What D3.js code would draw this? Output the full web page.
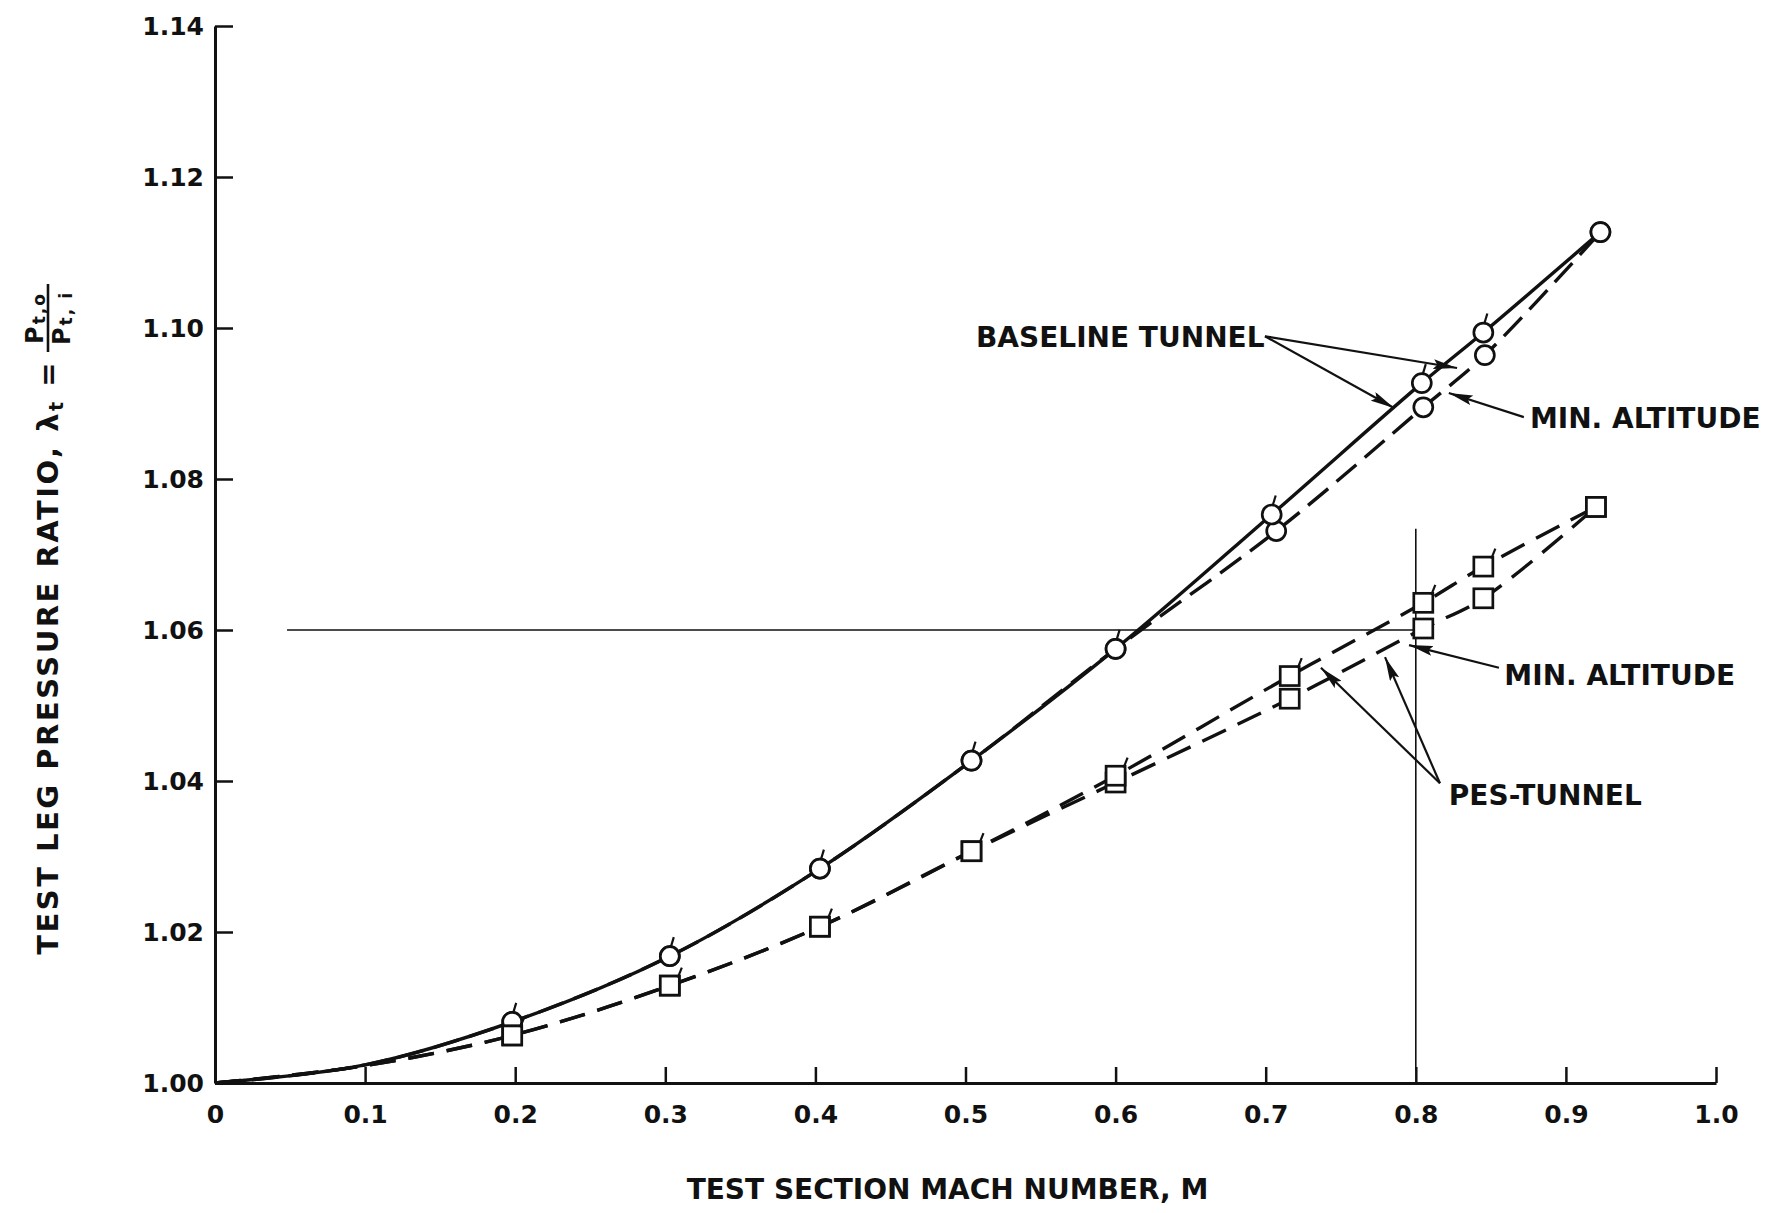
<!DOCTYPE html>
<html>
<head>
<meta charset="utf-8">
<script src="https://cdn.jsdelivr.net/npm/d3@7"></script>
<style>
  body { margin: 0; background: #fff; }
  text { font-family: "DejaVu Sans", sans-serif; font-weight: bold; fill: #111; }
</style>
</head>
<body>
<div id="chart"></div>
<script>
var width = 1775,
    height = 1213;

// axis ticks
var machTicks = [0, 0.1, 0.2, 0.3, 0.4, 0.5, 0.6, 0.7, 0.8, 0.9, 1.0];
var ratioTicks = [1.00, 1.02, 1.04, 1.06, 1.08, 1.10, 1.12, 1.14];

// first two points of every curve (M = 0 and 0.1) are read off the line, no symbol
var plainPoints = 2;

// baseline tunnel (circles, flagged)
var baseMach = [0, 0.1, 0.198, 0.303, 0.403, 0.504, 0.600, 0.704, 0.804, 0.845, 0.923];
var baseRatio = [1.000, 1.0024, 1.0081, 1.0168, 1.0284, 1.0427, 1.0575, 1.0753, 1.0927, 1.0994, 1.1127];
// baseline tunnel, min. altitude (circles)
var baseMinMach = [0, 0.1, 0.198, 0.303, 0.403, 0.504, 0.600, 0.707, 0.805, 0.846, 0.923];
var baseMinRatio = [1.000, 1.0024, 1.0081, 1.0168, 1.0284, 1.0427, 1.0575, 1.0731, 1.0895, 1.0964, 1.1127];
// PES-tunnel (squares, flagged)
var pesMach = [0, 0.1, 0.198, 0.303, 0.403, 0.504, 0.600, 0.716, 0.805, 0.845, 0.920];
var pesRatio = [1.000, 1.0023, 1.0063, 1.0129, 1.0207, 1.0307, 1.0407, 1.0539, 1.0636, 1.0684, 1.0763];
// PES-tunnel, min. altitude (squares)
var pesMinMach = [0, 0.1, 0.198, 0.303, 0.403, 0.504, 0.600, 0.716, 0.805, 0.845, 0.920];
var pesMinRatio = [1.000, 1.0023, 1.0063, 1.0129, 1.0207, 1.0307, 1.0398, 1.0509, 1.0602, 1.0642, 1.0763];

// reference lines
var refRatio = 1.06, refRatioStart = 0.048;
var refMach = 0.8, refMachRange = [1.0017, 1.0734];

// callouts
var labelNames = ["BASELINE TUNNEL", "MIN. ALTITUDE", "MIN. ALTITUDE", "PES-TUNNEL"];
var labelMach = [0.507, 0.876, 0.859, 0.822];
var labelRatio = [1.0975, 1.0868, 1.0527, 1.0368];
var arrowFromMach = [0.6995, 0.6995, 0.872, 0.8554, 0.8161, 0.8161];
var arrowFromRatio = [1.0989, 1.0989, 1.0882, 1.0550, 1.0397, 1.0397];
var arrowToMach = [0.8275, 0.7855, 0.822, 0.7955, 0.7368, 0.7795];
var arrowToRatio = [1.0947, 1.0894, 1.0914, 1.0580, 1.0550, 1.0564];

var series = [
    { mach: baseMinMach, ratio: baseMinRatio, shape: "circle", flag: false, dash: "26 11" },
    { mach: baseMach, ratio: baseRatio, shape: "circle", flag: true, dash: null },
    { mach: pesMinMach, ratio: pesMinRatio, shape: "square", flag: false, dash: "26 13" },
    { mach: pesMach, ratio: pesRatio, shape: "square", flag: true, dash: "26 13" }
];

var svg = d3.select("#chart")
    .append("svg")
    .attr("width", width)
    .attr("height", height);

svg.append("rect").attr("width", width).attr("height", height).attr("fill", "#fff");

svg.append("defs").append("marker")
    .attr("id", "arrow")
    .attr("viewBox", "0 0 24 10")
    .attr("refX", 24).attr("refY", 5)
    .attr("markerWidth", 24).attr("markerHeight", 10)
    .attr("markerUnits", "userSpaceOnUse")
    .attr("orient", "auto")
    .append("path")
    .attr("d", "M0,0L24,5L0,10L4,5Z")
    .attr("fill", "#111");

var x = d3.scaleLinear().domain([0, 1]).range([215, 1716]);
var y = d3.scaleLinear().domain([1.00, 1.14]).range([1083, 26]);

// axes, ticks pointing inward
var xAxis = svg.append("g")
    .attr("transform", "translate(0," + y(1.00) + ")")
    .call(d3.axisBottom(x).tickValues(machTicks).tickSizeInner(-16).tickSizeOuter(0).tickPadding(22)
        .tickFormat(function (d) { return d === 0 ? "0" : d3.format(".1f")(d); }));

var yAxis = svg.append("g")
    .attr("transform", "translate(" + x(0) + ",0)")
    .call(d3.axisLeft(y).tickValues(ratioTicks).tickSizeInner(-18).tickSizeOuter(0).tickPadding(11)
        .tickFormat(d3.format(".2f")));

[xAxis, yAxis].forEach(function (ax) {
    ax.select(".domain").attr("stroke", "#111").attr("stroke-width", 3);
    ax.selectAll(".tick line").attr("stroke", "#111").attr("stroke-width", 2.5);
    ax.selectAll(".tick text").attr("font-size", 25).attr("font-family", null).attr("fill", "#111");
});

// thin reference lines
svg.append("line")
    .attr("x1", x(refRatioStart)).attr("x2", x(refMach))
    .attr("y1", y(refRatio)).attr("y2", y(refRatio))
    .attr("stroke", "#111").attr("stroke-width", 1.4);

svg.append("line")
    .attr("x1", x(refMach)).attr("x2", x(refMach))
    .attr("y1", y(refMachRange[0])).attr("y2", y(refMachRange[1]))
    .attr("stroke", "#111").attr("stroke-width", 1.6);

// curves
var line = d3.line()
    .x(function (d) { return x(d[0]); })
    .y(function (d) { return y(d[1]); })
    .curve(d3.curveCatmullRom.alpha(0.5));

series.forEach(function (s) {
    var pts = s.mach.map(function (m, i) { return [m, s.ratio[i]]; });
    svg.append("path")
        .datum(pts)
        .attr("d", line)
        .attr("fill", "none")
        .attr("stroke", "#111")
        .attr("stroke-width", 3.4)
        .attr("stroke-dasharray", s.dash);
});

// symbols
series.forEach(function (s) {
    var pts = s.mach.map(function (m, i) { return [m, s.ratio[i], i === s.mach.length - 1]; }).slice(plainPoints);
    var mk = svg.append("g").selectAll("g").data(pts).enter().append("g")
        .attr("transform", function (d) { return "translate(" + x(d[0]) + "," + y(d[1]) + ")"; });

    if (s.shape === "circle") {
        mk.append("circle").attr("r", 9.5);
    } else {
        mk.append("rect").attr("x", -9.5).attr("y", -9.5).attr("width", 19).attr("height", 19);
    }
    mk.selectAll("circle, rect")
        .attr("fill", "#fff")
        .attr("stroke", "#111")
        .attr("stroke-width", 2.7);

    if (s.flag) {
        mk.filter(function (d) { return !d[2]; })
            .append("line")
            .attr("x1", s.shape === "circle" ? 1 : 8).attr("y1", s.shape === "circle" ? -9 : -8)
            .attr("x2", s.shape === "circle" ? 4 : 12).attr("y2", s.shape === "circle" ? -19 : -18)
            .attr("stroke", "#111").attr("stroke-width", 2.2);
    }
});

// callout labels + arrows
svg.append("g").selectAll("line")
    .data(arrowFromMach)
    .enter().append("line")
    .attr("x1", function (d, i) { return x(arrowFromMach[i]); })
    .attr("y1", function (d, i) { return y(arrowFromRatio[i]); })
    .attr("x2", function (d, i) { return x(arrowToMach[i]); })
    .attr("y2", function (d, i) { return y(arrowToRatio[i]); })
    .attr("stroke", "#111")
    .attr("stroke-width", 2.2)
    .attr("marker-end", "url(#arrow)");

svg.append("g").selectAll("text")
    .data(labelNames)
    .enter().append("text")
    .attr("x", function (d, i) { return x(labelMach[i]); })
    .attr("y", function (d, i) { return y(labelRatio[i]); })
    .attr("font-size", 28)
    .text(function (d) { return d; });

// axis titles
svg.append("text")
    .attr("x", x(0.488))
    .attr("y", 1199)
    .attr("text-anchor", "middle")
    .attr("font-size", 28)
    .text("TEST SECTION MACH NUMBER, M");

var yTitle = svg.append("g").attr("transform", "rotate(-90)");

var yText = yTitle.append("text")
    .attr("x", -360)
    .attr("y", 58)
    .attr("text-anchor", "end")
    .attr("font-size", 29)
    .attr("letter-spacing", 2.5);
yText.append("tspan").text("TEST LEG PRESSURE RATIO, λ");
yText.append("tspan").attr("font-size", 19).attr("dy", 5).text("t");
yText.append("tspan").attr("dy", -5).text(" =");

// P_t,o over P_t,i
var frac = yTitle.append("g").attr("transform", "translate(-318,0)");
frac.append("line")
    .attr("x1", -34).attr("x2", 34)
    .attr("y1", 48).attr("y2", 48)
    .attr("stroke", "#111").attr("stroke-width", 2.6);

var num = frac.append("text").attr("text-anchor", "middle").attr("y", 43).attr("font-size", 24).attr("letter-spacing", 2);
num.append("tspan").text("P");
num.append("tspan").attr("font-size", 17).attr("dy", 2).text("t,o");

var den = frac.append("text").attr("text-anchor", "middle").attr("y", 70).attr("font-size", 24).attr("letter-spacing", 2);
den.append("tspan").text("P");
den.append("tspan").attr("font-size", 17).attr("dy", 2).text("t, i");
</script>
</body>
</html>
